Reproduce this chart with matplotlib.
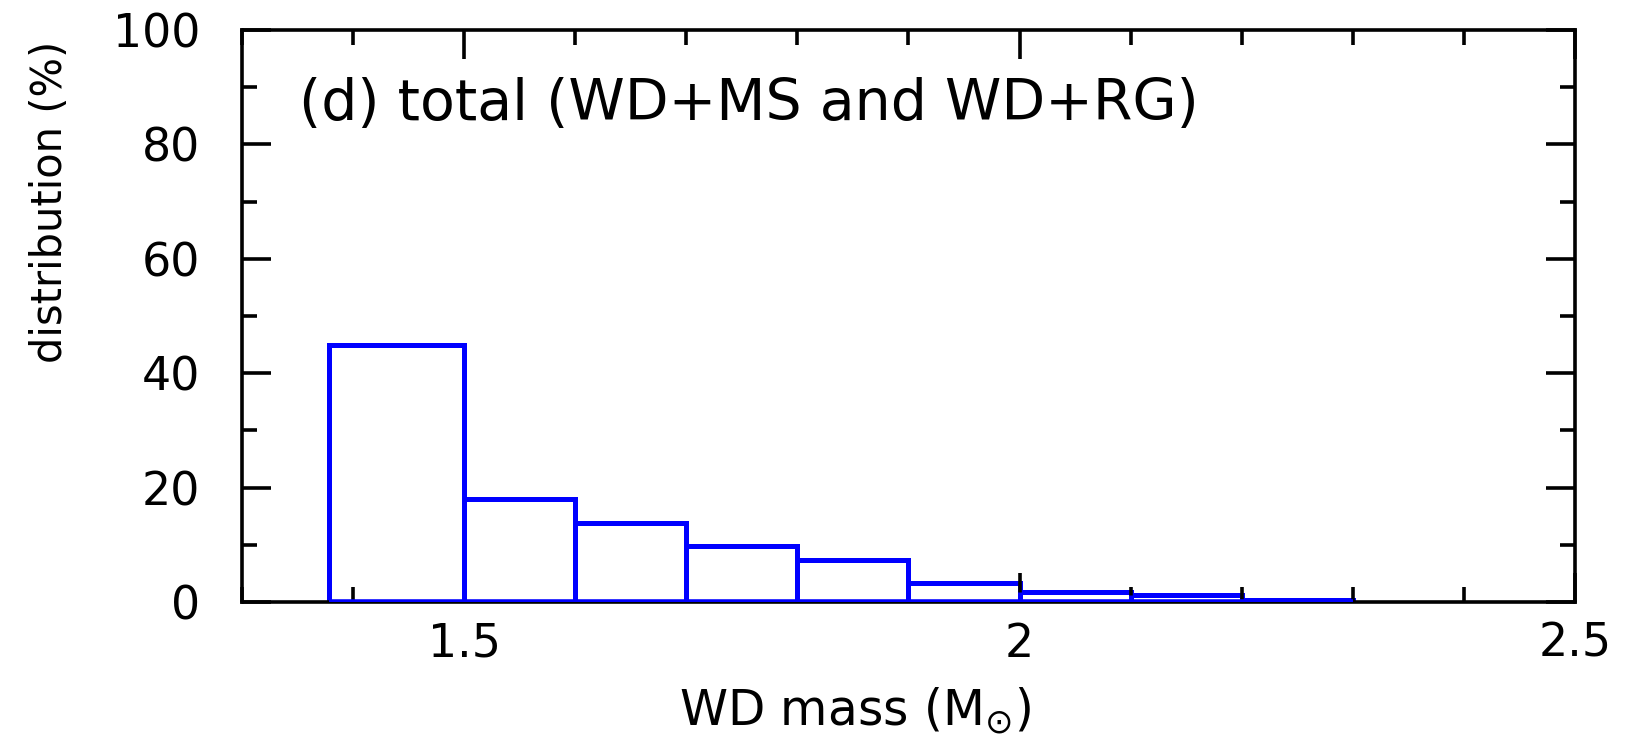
import numpy as np
import matplotlib
matplotlib.use("Agg")
import matplotlib.pyplot as plt
from matplotlib.ticker import MultipleLocator

# histogram of WD masses (percent per bin)
bin_edges = [1.378, 1.5, 1.6, 1.7, 1.8, 1.9, 2.0, 2.1, 2.2, 2.3]
dist_pct = [45.0, 18.0, 13.8, 9.8, 7.3, 3.3, 1.7, 1.2, 0.35]

panel_label = "(d) total (WD+MS and WD+RG)"
x_label = r"WD mass ($\mathrm{M}_{\odot}$)"
y_label = "distribution (%)"

plt.rcParams['font.family'] = ['DejaVu Sans']
plt.rcParams['mathtext.fontset'] = 'dejavusans'

fig = plt.figure(figsize=(16.27, 7.48), dpi=100)
ax = fig.add_axes([0.1487, 0.195, 0.8193, 0.765])

ax.stairs(dist_pct, bin_edges, color='#0000ff', linewidth=3.6)
# vertical edges between bins
ax.vlines(bin_edges[:-1], 0, dist_pct, color='#0000ff', linewidth=3.6)
ax.hlines(0, bin_edges[0], bin_edges[-1], color='#0000ff', linewidth=4, zorder=3)

ax.set_xlim(1.3, 2.5)
ax.set_ylim(0, 100)
ax.xaxis.set_major_locator(MultipleLocator(0.5))
ax.xaxis.set_minor_locator(MultipleLocator(0.1))
ax.yaxis.set_major_locator(MultipleLocator(20))
ax.yaxis.set_minor_locator(MultipleLocator(10))
ax.set_xticks([1.5, 2.0, 2.5])
ax.set_xticklabels(["1.5", "2", "2.5"])

ax.tick_params(which='both', direction='in', top=True, right=True, width=2.6)
ax.tick_params(which='major', length=21)
ax.tick_params(which='minor', length=11)
ax.tick_params(axis='x', which='major', pad=14, labelsize=33)
ax.tick_params(axis='y', which='major', pad=30, labelsize=33)
for s in ax.spines.values():
    s.set_linewidth(2.6)

ax.set_xlabel(x_label, fontsize=35)
ax.xaxis.set_label_coords(0.46, -0.145)
ax.set_ylabel(y_label, fontsize=30)
ax.yaxis.set_label_coords(-0.128, 0.7)

ax.text(0.043, 0.87, panel_label, transform=ax.transAxes, fontsize=41,
        ha='left', va='center')

fig.savefig("out.png", dpi=100)
